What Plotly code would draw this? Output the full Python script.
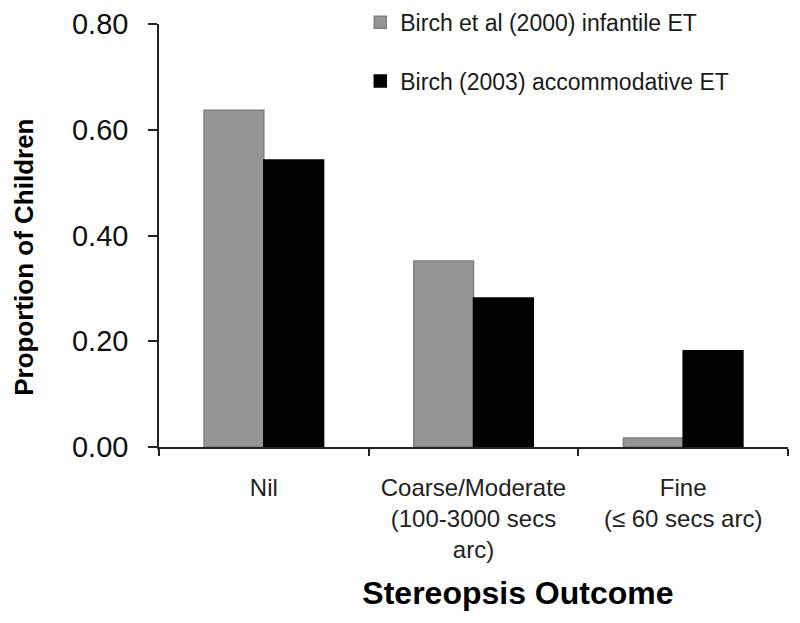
import plotly.graph_objects as go

categories = ["Nil", "Coarse/Moderate<br>(100-3000 secs<br>arc)", "Fine<br>(≤ 60 secs arc)"]
infantile_2000 = [0.637, 0.352, 0.017]
accommodative_2003 = [0.543, 0.282, 0.182]
series_names = ["Birch et al (2000) infantile ET", "Birch (2003) accommodative ET"]
y_ticks = [0.0, 0.2, 0.4, 0.6, 0.8]

NB = "\u00a0"

fig = go.Figure()
fig.add_trace(go.Bar(
    x=categories, y=infantile_2000, name=series_names[0], legendgroup="a",
    marker=dict(color="#969696", line=dict(color="#7f7f7f", width=1.5)),
))
fig.add_trace(go.Bar(
    x=categories, y=accommodative_2003, name=series_names[1], legendgroup="b",
    marker=dict(color="#000000", line=dict(color="#000000", width=1.5)),
))

fig.update_layout(
    width=800, height=623,
    margin=dict(l=159, r=12, t=24, b=176, autoexpand=False),
    paper_bgcolor="white", plot_bgcolor="white",
    font=dict(family="Arial, Liberation Sans, sans-serif", color="#000000"),
    barmode="group", bargap=0.43, bargroupgap=0,
    showlegend=True,
    legend=dict(
        x=0.32, y=1.055, xanchor="left", yanchor="top",
        font=dict(size=23, color="#1a1a1a"),
        traceorder="grouped", tracegroupgap=26,
        bgcolor="rgba(0,0,0,0)",
    ),
    xaxis=dict(
        showline=True, linecolor="#222222", linewidth=1.5,
        ticks="outside", ticklen=7, tickcolor="#222222", tickwidth=1.5,
        tickson="boundaries", ticklabelstandoff=18,
        tickfont=dict(size=24, color="#222222"),
        title=dict(text="<b>" + NB * 10 + "Stereopsis Outcome</b>", font=dict(size=32), standoff=20),
        showgrid=False, zeroline=False, automargin=False,
    ),
    yaxis=dict(
        range=[0, 0.8], tickvals=y_ticks, tickformat=".2f",
        showline=True, linecolor="#222222", linewidth=1.5,
        ticks="outside", ticklen=9, tickcolor="#222222", tickwidth=1.5,
        ticklabelstandoff=14,
        tickfont=dict(size=29, color="#111111"),
        title=dict(text="<b>Proportion of Children" + NB * 6 + "</b>", font=dict(size=26), standoff=31),
        showgrid=False, zeroline=False, automargin=False,
    ),
)

fig.write_html(
    "out.html",
    config={"displayModeBar": False},
    post_script="document.body.style.margin='0';document.body.style.padding='0';",
)
